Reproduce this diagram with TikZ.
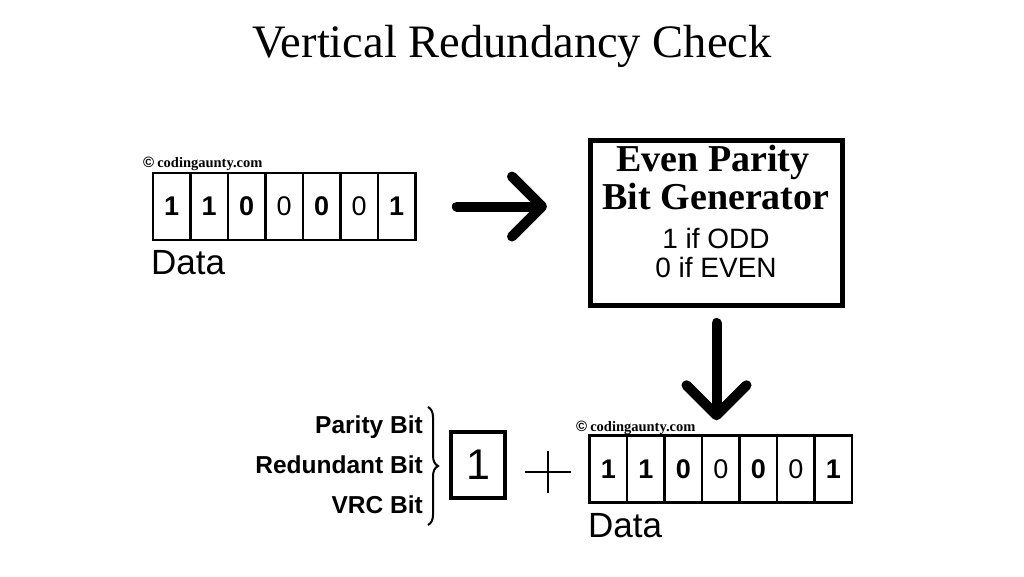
\documentclass[tikz,border=0pt]{standalone}
\usepackage{fontspec}
\setmainfont{Liberation Sans}
\newfontfamily\headfont{Liberation Serif}
\usetikzlibrary{arrows.meta,positioning,decorations.pathreplacing}

\begin{document}
\begin{tikzpicture}[x=1pt,y=-1pt,
        bigarrow/.style={-{Straight Barb[length=30pt,width=60pt,round]},line width=10pt,line cap=round},
        bit/.style={draw,line width=2.5pt,minimum width=37.5pt,minimum height=67pt,inner sep=0pt,
            font=\fontsize{27}{27}\selectfont},
        wmark/.style={inner sep=0pt,anchor=base west},
        datalabel/.style={font=\fontsize{35}{35}\selectfont,inner sep=0pt,anchor=base west},
        sidelabel/.style={font=\bfseries\fontsize{24.5}{24.5}\selectfont,inner sep=0pt,anchor=base east},
        gentext/.style={inner sep=0pt,anchor=base}]
    \useasboundingbox[fill=white] (0,0) rectangle (1024,576);

    \node[gentext,font=\headfont\fontsize{46.5}{46.5}\selectfont] (title) at (512,57) {Vertical Redundancy Check};

    % data bits, top row and bottom row
    \foreach \b [count=\i] in {\bfseries 1,\bfseries 1,\bfseries 0,0,\bfseries 0,0,\bfseries 1}{
        \node[bit] (t\i) at ({153+37.5*(\i-0.5)},206.5) {\b};
        \node[bit] (b\i) at ({589.5+37.5*(\i-0.5)},469) {\b};
    }
    \node[wmark] (wt) at (143,167) {\bfseries\fontsize{15}{15}\selectfont©\hspace{3pt}\headfont\fontsize{14.5}{14.5}\selectfont codingaunty.com};
    \node[wmark] (wb) at (576,431) {\bfseries\fontsize{15}{15}\selectfont©\hspace{3pt}\headfont\fontsize{14.5}{14.5}\selectfont codingaunty.com};
    \node[datalabel] (dt) at (151,274) {Data};
    \node[datalabel] (db) at (588,537) {Data};

    % generator box
    \node[draw,line width=5pt,minimum width=252pt,minimum height=165pt,inner sep=0pt] (gen) at (716.5,223) {};
    \node[gentext,font=\headfont\bfseries\fontsize{38}{38}\selectfont] (g1) at (713,171) {Even Parity};
    \node[gentext,font=\headfont\bfseries\fontsize{38}{38}\selectfont] (g2) at (716,209) {Bit Generator};
    \node[gentext,font=\fontsize{28}{28}\selectfont] (g3) at (716,248) {1 if ODD};
    \node[gentext,font=\fontsize{28}{28}\selectfont] (g4) at (716,277) {0 if EVEN};

    \draw[bigarrow,shorten <=40pt,shorten >=41pt] (t7.east) -- (t7.east -| gen.west);
    \draw[bigarrow,shorten <=15pt,shorten >=14pt] (gen.south) -- (gen.south |- b4.north);

    % parity bit
    \node[draw,line width=4pt,minimum width=54pt,minimum height=66pt,font=\fontsize{43}{43}\selectfont] (par) at (478,465) {1};
    \coordinate (plus) at (548,472);
    \draw[line width=2.5pt] (plus) ++(-23,0) -- ++(46,0) (plus) ++(0,-21) -- ++(0,42);

    \node[sidelabel] (l1) at (423,433) {Parity Bit};
    \node[sidelabel] (l2) at (423,473) {Redundant Bit};
    \node[sidelabel] (l3) at (423,513) {VRC Bit};
    \draw[decorate,decoration={brace,amplitude=10pt},line width=2pt] (428,407) -- (428,525);
\end{tikzpicture}
\end{document}
